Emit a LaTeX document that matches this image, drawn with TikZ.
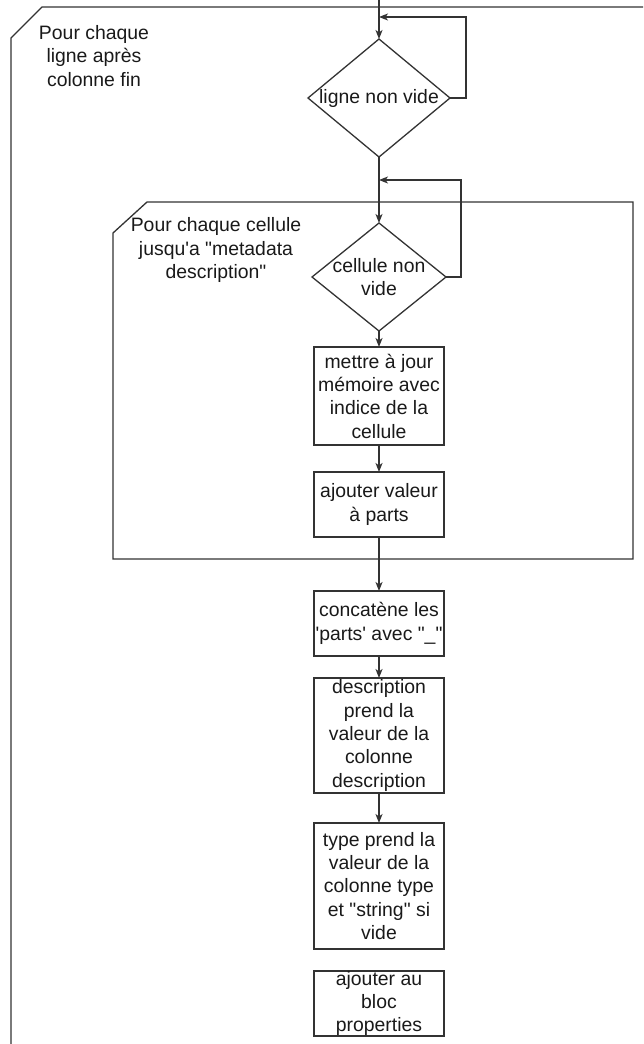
\documentclass[tikz,border=0pt]{standalone}
\usepackage{fontspec}
\newfontfamily\diagfont{Liberation Sans}
\usepackage{tikz}
\usetikzlibrary{arrows.meta,shapes.geometric,positioning}
\tikzset{
  every picture/.style = {
    line width = 1.3pt,
    color = black!80,
    >={Stealth[length=9pt,width=7pt,inset=2.5pt]},
    x = 1pt,
    y = -1pt
  }
  , % boxes of the flow
  action/.style = {
    rectangle,
    draw,
    outer sep = 0pt,
    inner sep = 0pt,
    minimum width = 130pt,
    align = center,
    text = black!90,
    font = \diagfont\fontsize{19.4}{23.3}\selectfont
  }
  , % tests of the loops
  test/.style = {
    diamond,
    draw,
    outer sep = 0pt,
    inner sep = 0pt,
    minimum width = 142pt,
    minimum height = 118pt
  }
  , % labels of frames and tests
  label-frame/.style = {
    align = center,
    inner sep = 0pt,
    text = black!90,
    font = \diagfont\fontsize{19.4}{23.3}\selectfont
  }
}

\begin{document}
\begin{tikzpicture}[->]
  \useasboundingbox (0,0) rectangle (643,1044);

  % loop frames
  \draw [-] (643,7) -- (42,7) -- (11,38) -- (11,1044);
  \draw [-] (147,202) -- (633,202) -- (633,559) -- (113,559) -- (113,233) -- cycle;
  \node [label-frame] (lbl-ligne) at (94,56) {Pour chaque\\ligne après\\colonne fin};
  \node [label-frame] (lbl-cellule) at (216,250) {Pour chaque cellule\\jusqu'a "metadata\\description"};

  \node [test, label={[label-frame]center:ligne non vide}] (d1) at (379,98) {};
  \node [test, minimum width = 134pt, minimum height = 108pt, below = 66pt of d1,
         label={[label-frame]center:{cellule non\\vide}}] (d2) {};
  \node [action, minimum height = 98pt, below = 16pt of d2] (b1) {mettre à jour\\mémoire avec\\indice de la\\cellule};
  \node [action, minimum height = 65pt, below = 27pt of b1] (b2) {ajouter valeur\\à parts};
  \node [action, minimum height = 65pt, below = 54pt of b2] (b3) {concatène les\\'parts' avec "\_"};
  \node [action, minimum height = 115pt, below = 22pt of b3] (b4) {description\\prend la\\valeur de la\\colonne\\description};
  \node [action, minimum height = 126pt, below = 30pt of b4] (b5) {type prend la\\valeur de la\\colonne type\\et "string" si\\vide};
  \node [action, minimum height = 65pt, below = 22pt of b5] (b6) {ajouter au\\bloc\\properties};

  \coordinate (start) at (379,0);
  \coordinate (back1) at (379,17);
  \coordinate (back2) at (379,180);

  \path (start) edge (d1)
        (d1) edge (d2)
        (d2) edge (b1)
        (b1) edge (b2)
        (b2) edge (b3)
        (b3) edge (b4)
        (b4) edge (b5);

  \draw (d1.east) -- ++(16,0) |- (back1);
  \draw (d2.east) -- ++(15,0) |- (back2);
\end{tikzpicture}
\end{document}
